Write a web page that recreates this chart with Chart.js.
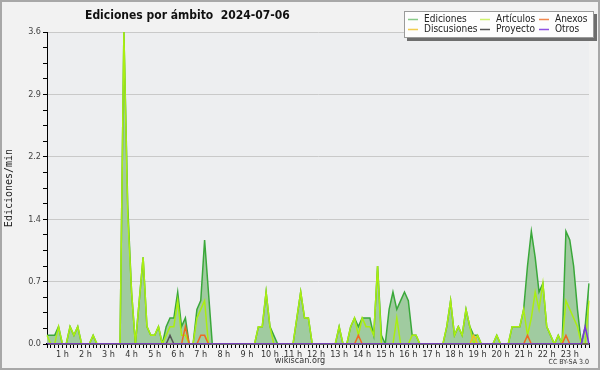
<!DOCTYPE html>
<html>
<head>
<meta charset="utf-8">
<script src="https://cdn.jsdelivr.net/npm/chart.js@4.4.1/dist/chart.umd.min.js"></script>
<style>
  html, body { margin: 0; padding: 0; background: #f2f2f2; }
  #wrap { width: 600px; height: 370px; }
</style>
</head>
<body>
<div id="wrap"><canvas id="chart" width="600" height="370"></canvas></div>
<script>
// 10-minute buckets, 00:20 -> 23:50
const startMinute = 20;
const stepMinutes = 10;

const ediciones = [
  0.1, 0.1, 0.1, 0.2, 0, 0, 0.2, 0.1, 0.2, 0,
  0, 0, 0.1, 0, 0, 0, 0, 0, 0, 0,
  3.6, 1.6, 0.6, 0, 0.5, 1.0, 0.2, 0.1, 0.1, 0.2,
  0, 0.2, 0.3, 0.3, 0.6, 0.2, 0.3, 0, 0, 0.4,
  0.5, 1.2, 0.6, 0, 0, 0, 0, 0, 0, 0,
  0, 0, 0, 0, 0, 0.2, 0.2, 0.6, 0.2, 0.1,
  0, 0, 0, 0, 0, 0.3, 0.6, 0.3, 0.3, 0,
  0, 0, 0, 0, 0, 0, 0.2, 0, 0, 0.2,
  0.3, 0.2, 0.3, 0.3, 0.3, 0.1, 0.9, 0.1, 0, 0.4,
  0.6, 0.4, 0.5, 0.6, 0.5, 0.1, 0.1, 0, 0, 0,
  0, 0, 0, 0, 0.2, 0.5, 0.1, 0.2, 0.1, 0.4,
  0.2, 0.1, 0.1, 0, 0, 0, 0, 0.1, 0, 0,
  0, 0.2, 0.2, 0.2, 0.4, 0.9, 1.3, 1.0, 0.6, 0.7,
  0.2, 0.1, 0, 0.1, 0, 1.3, 1.2, 0.9, 0.4, 0,
  0.2, 0.7
];
const articulos = [
  0.1, 0, 0, 0.2, 0, 0, 0.2, 0.1, 0.2, 0,
  0, 0, 0.1, 0, 0, 0, 0, 0, 0, 0,
  3.6, 1.5, 0.6, 0, 0.5, 1.0, 0.2, 0.1, 0.1, 0.2,
  0, 0.1, 0.2, 0.2, 0.5, 0.1, 0.1, 0, 0, 0.3,
  0.4, 0.5, 0, 0, 0, 0, 0, 0, 0, 0,
  0, 0, 0, 0, 0, 0.2, 0.2, 0.6, 0.2, 0,
  0, 0, 0, 0, 0, 0.3, 0.6, 0.3, 0.3, 0,
  0, 0, 0, 0, 0, 0, 0.2, 0, 0, 0.2,
  0.3, 0.1, 0.3, 0.2, 0.2, 0.1, 0.9, 0, 0, 0,
  0, 0.3, 0, 0, 0, 0.1, 0.1, 0, 0, 0,
  0, 0, 0, 0, 0.2, 0.5, 0.1, 0.2, 0.1, 0.4,
  0.2, 0, 0.1, 0, 0, 0, 0, 0.1, 0, 0,
  0, 0.2, 0.2, 0.2, 0.4, 0.1, 0.3, 0.6, 0.4, 0.7,
  0.2, 0.1, 0, 0.1, 0, 0.5, 0.4, 0.3, 0.2, 0,
  0, 0.5
];
const anexos = [
  0, 0, 0, 0, 0, 0, 0, 0, 0, 0,
  0, 0, 0, 0, 0, 0, 0, 0, 0, 0,
  0, 0, 0, 0, 0, 0, 0, 0, 0, 0,
  0, 0, 0, 0, 0, 0, 0.2, 0, 0, 0,
  0.1, 0.1, 0, 0, 0, 0, 0, 0, 0, 0,
  0, 0, 0, 0, 0, 0, 0, 0, 0, 0,
  0, 0, 0, 0, 0, 0, 0, 0, 0, 0,
  0, 0, 0, 0, 0, 0, 0, 0, 0, 0,
  0, 0.1, 0, 0, 0, 0, 0, 0, 0, 0,
  0, 0, 0, 0, 0, 0, 0, 0, 0, 0,
  0, 0, 0, 0, 0, 0, 0, 0, 0, 0,
  0, 0, 0, 0, 0, 0, 0, 0, 0, 0,
  0, 0, 0, 0, 0, 0.1, 0, 0, 0, 0,
  0, 0, 0, 0, 0, 0.1, 0, 0, 0, 0,
  0, 0
];
const discusiones = [
  0, 0, 0, 0, 0, 0, 0, 0, 0, 0,
  0, 0, 0, 0, 0, 0, 0, 0, 0, 0,
  0, 0, 0, 0, 0, 0, 0, 0, 0, 0,
  0, 0, 0, 0, 0, 0, 0, 0, 0, 0,
  0, 0, 0, 0, 0, 0, 0, 0, 0, 0,
  0, 0, 0, 0, 0, 0, 0, 0, 0, 0,
  0, 0, 0, 0, 0, 0, 0, 0, 0, 0,
  0, 0, 0, 0, 0, 0, 0, 0, 0, 0,
  0, 0, 0, 0, 0, 0, 0, 0, 0, 0,
  0, 0, 0, 0, 0, 0, 0, 0, 0, 0,
  0, 0, 0, 0, 0, 0, 0, 0, 0, 0,
  0, 0.1, 0, 0, 0, 0, 0, 0, 0, 0,
  0, 0, 0, 0, 0, 0, 0, 0, 0, 0,
  0, 0, 0, 0, 0, 0, 0, 0, 0, 0,
  0, 0
];
const proyecto = [
  0, 0, 0, 0, 0, 0, 0, 0, 0, 0,
  0, 0, 0, 0, 0, 0, 0, 0, 0, 0,
  0, 0, 0, 0, 0, 0, 0, 0, 0, 0,
  0, 0, 0.1, 0, 0, 0, 0, 0, 0, 0,
  0, 0, 0, 0, 0, 0, 0, 0, 0, 0,
  0, 0, 0, 0, 0, 0, 0, 0, 0, 0,
  0, 0, 0, 0, 0, 0, 0, 0, 0, 0,
  0, 0, 0, 0, 0, 0, 0, 0, 0, 0,
  0, 0, 0, 0, 0, 0, 0, 0, 0, 0,
  0, 0, 0, 0, 0, 0, 0, 0, 0, 0,
  0, 0, 0, 0, 0, 0, 0, 0, 0, 0,
  0, 0, 0, 0, 0, 0, 0, 0, 0, 0,
  0, 0, 0, 0, 0, 0, 0, 0, 0, 0,
  0, 0, 0, 0, 0, 0, 0, 0, 0, 0,
  0, 0
];
const otros = [
  0, 0, 0, 0, 0, 0, 0, 0, 0, 0,
  0, 0, 0, 0, 0, 0, 0, 0, 0, 0,
  0, 0, 0, 0, 0, 0, 0, 0, 0, 0,
  0, 0, 0, 0, 0, 0, 0, 0, 0, 0,
  0, 0, 0, 0, 0, 0, 0, 0, 0, 0,
  0, 0, 0, 0, 0, 0, 0, 0, 0, 0,
  0, 0, 0, 0, 0, 0, 0, 0, 0, 0,
  0, 0, 0, 0, 0, 0, 0, 0, 0, 0,
  0, 0, 0, 0, 0, 0, 0, 0, 0, 0,
  0, 0, 0, 0, 0, 0, 0, 0, 0, 0,
  0, 0, 0, 0, 0, 0, 0, 0, 0, 0,
  0, 0, 0, 0, 0, 0, 0, 0, 0, 0,
  0, 0, 0, 0, 0, 0, 0, 0, 0, 0,
  0, 0, 0, 0, 0, 0, 0, 0, 0, 0,
  0.2, 0
];

const yMax = 3.6;
const yMinorPerMajor = 4;
const yMajorCount = 5;

const chartTitle = 'Ediciones por ámbito  2024-07-06';
const yTitle = 'Ediciones/min';
const footerText = 'wikiscan.org';
const licenseText = 'CC BY-SA 3.0';

// time categories
const times = ediciones.map((_, i) => {
  const m = startMinute + i * stepMinutes;
  return String(Math.floor(m / 60)).padStart(2, '0') + ':' + String(m % 60).padStart(2, '0');
});

const yTickValues = [];
for (let k = 0; k <= yMajorCount * yMinorPerMajor; k++) {
  yTickValues.push(yMax * k / (yMajorCount * yMinorPerMajor));
}

const FONT = '"DejaVu Sans Condensed", "DejaVu Sans", sans-serif';

const series = [
  { label: 'Ediciones', data: ediciones, color: '#3aa83a', legend: 'rgba(58,168,58,0.6)', fill: true, order: 10 },
  { label: 'Artículos', data: articulos, color: '#aaee11', legend: 'rgba(190,238,60,0.75)', order: 9 },
  { label: 'Anexos', data: anexos, color: '#ee6a22', legend: 'rgba(238,106,34,0.8)', order: 4 },
  { label: 'Discusiones', data: discusiones, color: '#eec022', legend: 'rgba(238,192,34,0.8)', order: 3 },
  { label: 'Proyecto', data: proyecto, color: '#555555', legend: '#555555', order: 2 },
  { label: 'Otros', data: otros, color: '#7a33dd', legend: 'rgba(122,51,221,0.85)', order: 1 }
];

// background, title, legend box, footer
const decor = {
  id: 'decor',
  beforeDraw(chart) {
    const { ctx, chartArea: a } = chart;
    ctx.save();
    ctx.fillStyle = '#f2f2f2';
    ctx.fillRect(0, 0, chart.width, chart.height);
    ctx.fillStyle = '#edeef0';
    ctx.fillRect(a.left, a.top, a.right - a.left, a.bottom - a.top);
    ctx.strokeStyle = '#a8a8a8';
    ctx.lineWidth = 2;
    ctx.strokeRect(1, 1, chart.width - 2, chart.height - 2);
    ctx.restore();
  },
  afterDraw(chart) {
    const { ctx } = chart;
    ctx.save();
    // title
    ctx.fillStyle = '#111';
    ctx.font = 'bold 12px ' + FONT;
    ctx.textAlign = 'left';
    ctx.textBaseline = 'middle';
    ctx.fillText(chartTitle, 85, 16);

    // legend box with shadow
    const bx = 404, by = 11, bw = 190, bh = 27;
    ctx.fillStyle = '#6e6e6e';
    ctx.fillRect(bx + 3, by + 3, bw, bh);
    ctx.fillStyle = '#fdfdfd';
    ctx.fillRect(bx, by, bw, bh);
    ctx.strokeStyle = '#9a9a9a';
    ctx.lineWidth = 1;
    ctx.strokeRect(bx + 0.5, by + 0.5, bw - 1, bh - 1);

    const colX = [408, 480, 539];
    const rowY = [19, 29];
    ctx.font = '10px ' + FONT;
    chart.data.datasets.forEach((ds, i) => {
      const x = colX[i % 3];
      const y = rowY[Math.floor(i / 3)];
      ctx.strokeStyle = series[i].legend;
      ctx.lineWidth = 1.5;
      ctx.beginPath();
      ctx.moveTo(x, y + 0.5);
      ctx.lineTo(x + 10, y + 0.5);
      ctx.stroke();
      ctx.fillStyle = '#222';
      ctx.fillText(ds.label, x + 16, y);
    });

    // footer
    ctx.fillStyle = '#333';
    ctx.font = '9px ' + FONT;
    ctx.textAlign = 'center';
    ctx.fillText(footerText, 300, 361);
    ctx.font = '7px ' + FONT;
    ctx.textAlign = 'right';
    ctx.fillText(licenseText, 589, 362);
    ctx.restore();
  }
};

new Chart(document.getElementById('chart'), {
  type: 'line',
  data: {
    labels: times,
    datasets: series.map(s => ({
      label: s.label,
      data: s.data,
      borderColor: s.color,
      backgroundColor: s.fill ? '#a0cba0' : s.color,
      borderWidth: 1.5,
      fill: s.fill ? 'origin' : false,
      tension: 0,
      pointRadius: 0,
      order: s.order
    }))
  },
  options: {
    responsive: false,
    animation: false,
    devicePixelRatio: 1,
    layout: { padding: { left: 0, top: 32, right: 11, bottom: 0 } },
    plugins: {
      legend: { display: false },
      tooltip: { enabled: false }
    },
    scales: {
      x: {
        type: 'category',
        offset: false,
        z: 1,
        afterFit: (scale) => { scale.height = 26; },
        grid: { drawOnChartArea: false, tickLength: 4, tickColor: '#000', color: '#000' },
        border: { display: true, color: '#000', width: 1.5 },
        ticks: {
          autoSkip: false,
          maxRotation: 0,
          minRotation: 0,
          padding: 1,
          color: '#333',
          font: { family: FONT, size: 9 },
          callback: (val, idx) => times[idx].endsWith(':00') ? parseInt(times[idx], 10) + ' h' : ''
        }
      },
      y: {
        type: 'linear',
        min: 0,
        max: yMax,
        afterFit: (scale) => { scale.width = 47; },
        afterBuildTicks: (scale) => { scale.ticks = yTickValues.map(v => ({ value: v })); },
        grid: {
          tickLength: 4,
          tickColor: '#000',
          color: (c) => c.index % yMinorPerMajor === 0 ? '#c9c9c9' : 'rgba(0,0,0,0)'
        },
        border: { display: true, color: '#000', width: 1 },
        title: {
          display: true,
          text: yTitle,
          color: '#222',
          font: { family: '"DejaVu Sans Mono", monospace', size: 10 },
          padding: { top: 3, bottom: 0 }
        },
        ticks: {
          padding: 2,
          color: '#444',
          font: { family: FONT, size: 9 },
          callback: (val, idx) => idx % yMinorPerMajor === 0 ? val.toFixed(1) : ''
        }
      }
    }
  },
  plugins: [decor]
});
</script>
</body>
</html>
